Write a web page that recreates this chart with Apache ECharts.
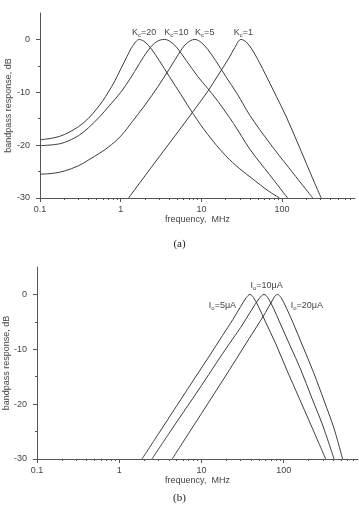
<!DOCTYPE html>
<html>
<head>
    <meta charset="utf-8">
    <style>
        html, body { margin: 0; padding: 0; background: #fff; }
        #main { width: 359px; height: 520px; }
    </style>
    <script src="https://cdn.jsdelivr.net/npm/echarts@6/dist/echarts.min.js"></script>
</head>
<body>
    <div id="main"></div>
    <script type="text/javascript">
        // (a) bandpass response for different Kc, [MHz, dB]
        var kc20 = [[0.1,-19.0],[0.15,-18.6],[0.2,-18.0],[0.3,-16.5],[0.4,-14.9],[0.5,-13.2],[0.6,-11.6],[0.7,-10.0],[0.85,-7.8],[1.0,-5.6],[1.2,-3.2],[1.4,-1.3],[1.7,0],[2.0,-0.5],[2.4,-1.8],[3.0,-4.0],[4.0,-7.0],[5.5,-10.3],[8.0,-14.2],[12,-18.0],[20,-22.0],[30,-24.5],[45,-26.6],[65,-28.5],[93,-30]];
        var kc10 = [[0.1,-20.1],[0.15,-19.9],[0.2,-19.5],[0.3,-18.2],[0.4,-16.7],[0.55,-14.6],[0.7,-12.8],[0.85,-11.3],[1.0,-10.0],[1.3,-7.5],[1.7,-4.6],[2.2,-2.0],[2.8,-0.4],[3.5,0],[4.2,-0.5],[5,-1.6],[6.5,-4.0],[9,-7.0],[12,-9.3],[16,-11.7],[25,-15.9],[40,-20.8],[70,-25.6],[117,-30]];
        var kc5 = [[0.1,-25.5],[0.15,-25.3],[0.2,-24.9],[0.3,-23.9],[0.4,-22.8],[0.55,-21.5],[0.7,-20.4],[1.0,-18.3],[1.4,-15.5],[2.0,-12.4],[2.9,-8.9],[4.0,-5.6],[5.2,-2.8],[6.5,-0.8],[8.3,0],[10,-0.6],[12,-1.9],[15,-4.0],[20,-7.0],[28,-10.4],[40,-14.4],[70,-19.6],[120,-24.2],[180,-27.6],[240,-30]];
        var kc1 = [[1.25,-30],[2,-25.8],[3,-22.2],[5,-17.7],[8,-13.5],[12,-9.8],[17,-6.2],[22,-3.5],[26,-1.5],[31,0],[36,-0.5],[42,-1.8],[50,-3.8],[65,-7.2],[85,-10.8],[110,-14.3],[150,-19.0],[200,-23.5],[250,-27.0],[305,-30]];

        // (b) bandpass response for different Io
        var io5 = [[1.89,-30],[3,-25.4],[5,-20.3],[8,-15.6],[12,-11.6],[18,-7.5],[24,-4.6],[30,-2.2],[35,-0.6],[38.8,0],[43,-0.6],[50,-2.4],[60,-5.0],[80,-9.0],[110,-13.9],[150,-18.5],[220,-24.2],[324,-30]];
        var io10 = [[2.5,-30],[4,-25.4],[6,-21.5],[10,-16.6],[15,-12.6],[22,-8.9],[30,-6.0],[40,-3.0],[50,-0.8],[57.6,0],[64,-0.6],[75,-2.5],[90,-5.2],[120,-9.4],[160,-13.6],[220,-18.9],[300,-24.0],[409,-30]];
        var io20 = [[4.4,-30],[7,-25.3],[10,-21.7],[15,-17.6],[22,-13.7],[32,-9.8],[45,-6.3],[60,-3.3],[72,-1.2],[83.7,0],[93,-0.6],[108,-2.5],[130,-5.2],[170,-9.4],[230,-14.2],[310,-19.4],[410,-24.5],[520,-30]];

        var freqLabels = [0.1, 1, 10, 100];
        var dbLabels = [-30, -20, -10, 0];
        var dbMinor = [-25, -15, -5];
        var freqMinor = [];
        [0.1, 1, 10, 100].forEach(function (d) {
            for (var m = 2; m <= 9; m++) {
                var v = +(d * m).toPrecision(3);
                if (v < 800) freqMinor.push(v);
            }
        });

        var txt = '#444';
        var lineCol = '#3c3c3c';
        var font = 'Liberation Sans, Arial, sans-serif';

        function xMain(gi) {
            return {
                type: 'log', gridIndex: gi, min: 0.1, max: 800, logBase: 10, position: 'bottom',
                name: 'frequency,  MHz', nameLocation: 'middle', nameGap: 17, nameMoveOverlap: false,
                nameTextStyle: { color: txt, fontSize: 9, fontFamily: font },
                axisLine: { onZero: false, lineStyle: { color: '#555', width: 1 } },
                axisTick: { show: true, length: 4, customValues: freqLabels, lineStyle: { color: '#555' } },
                axisLabel: { customValues: freqLabels, color: txt, fontSize: 9, fontFamily: font, margin: 7,
                    formatter: function (v) { return String(v); } },
                splitLine: { show: false }
            };
        }
        function xMinor(gi) {
            return {
                type: 'log', gridIndex: gi, min: 0.1, max: 800, logBase: 10, position: 'bottom',
                axisLine: { show: false, onZero: false },
                axisTick: { show: true, length: 2, customValues: freqMinor, lineStyle: { color: '#555' } },
                axisLabel: { show: false },
                splitLine: { show: false }
            };
        }
        function yMain(gi, gap) {
            return {
                type: 'value', gridIndex: gi, min: -30, max: 5, position: 'left',
                name: 'bandpass response, dB', nameLocation: 'middle', nameGap: gap, nameRotate: 90,
                nameMoveOverlap: false,
                nameTextStyle: { color: txt, fontSize: 9, fontFamily: font },
                axisLine: { show: true, onZero: false, lineStyle: { color: '#555', width: 1 } },
                axisTick: { show: true, length: 4, customValues: dbLabels, lineStyle: { color: '#555' } },
                axisLabel: { customValues: dbLabels, color: txt, fontSize: 9, fontFamily: font, margin: 10 },
                splitLine: { show: false }
            };
        }
        function yMinor(gi) {
            return {
                type: 'value', gridIndex: gi, min: -30, max: 5, position: 'left',
                axisLine: { show: false, onZero: false },
                axisTick: { show: true, length: 2, customValues: dbMinor, lineStyle: { color: '#555' } },
                axisLabel: { show: false },
                splitLine: { show: false }
            };
        }

        function sub(main, s, rest) {
            return '{a|' + main + '}{b|' + s + '}{a|' + rest + '}';
        }
        var richText = {
            a: { fontSize: 9, color: txt, fontFamily: font, lineHeight: 12 },
            b: { fontSize: 6, color: txt, fontFamily: font, lineHeight: 12, padding: [5, 0, 0, 0] }
        };

        function curve(name, data, xi, yi, tag) {
            var s = {
                name: name, type: 'line', data: data, xAxisIndex: xi, yAxisIndex: yi,
                showSymbol: false, smooth: 0.35, silent: true,
                lineStyle: { color: lineCol, width: 1 }
            };
            if (tag) {
                s.markPoint = {
                    symbolSize: 0, silent: true,
                    data: [{ coord: tag.at, label: { show: true, formatter: tag.text, rich: richText } }]
                };
            }
            return s;
        }

        var myChart = echarts.init(document.getElementById('main'));
        var option = {
            backgroundColor: '#fff',
            animation: false,
            grid: [
                { left: 40, top: 13, width: 315, height: 185, containLabel: false, outerBoundsMode: 'none' },
                { left: 37, top: 267, width: 321, height: 192, containLabel: false, outerBoundsMode: 'none' }
            ],
            xAxis: [xMain(0), xMinor(0), xMain(1), xMinor(1)],
            yAxis: [yMain(0, 27), yMinor(0), yMain(1, 26), yMinor(1)],
            graphic: [
                { type: 'text', left: 'center', top: 239, style: { text: '(a)', fill: '#222', font: '11px Liberation Serif, serif' } },
                { type: 'text', left: 'center', top: 493, style: { text: '(b)', fill: '#222', font: '11px Liberation Serif, serif' } }
            ],
            series: [
                curve('Kc=20', kc20, 0, 0, { at: [1.95, 1.3], text: sub('K', 'c', '=20') }),
                curve('Kc=10', kc10, 0, 0, { at: [4.9, 1.3], text: sub('K', 'c', '=10') }),
                curve('Kc=5', kc5, 0, 0, { at: [11, 1.3], text: sub('K', 'c', '=5') }),
                curve('Kc=1', kc1, 0, 0, { at: [33, 1.3], text: sub('K', 'c', '=1') }),
                curve('Io=5uA', io5, 2, 2, { at: [18, -2.0], text: sub('I', 'o', '=5\u03bcA') }),
                curve('Io=10uA', io10, 2, 2, { at: [62, 1.6], text: sub('I', 'o', '=10\u03bcA') }),
                curve('Io=20uA', io20, 2, 2, { at: [191, -2.0], text: sub('I', 'o', '=20\u03bcA') })
            ]
        };
        myChart.setOption(option);
    </script>
</body>
</html>
